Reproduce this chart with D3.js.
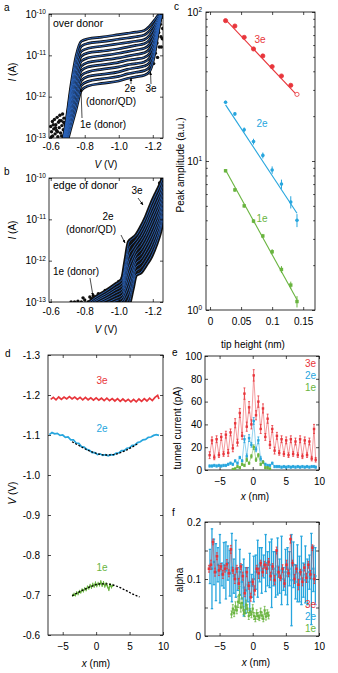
<!DOCTYPE html>
<html>
<head>
<meta charset="utf-8">
<script src="https://cdn.jsdelivr.net/npm/d3@7"></script>
<style>
body { margin: 0; background: #fff; }
svg text { font-family: "Liberation Sans", Arial, sans-serif; }
</style>
</head>
<body>
<svg id="fig" width="338" height="673"></svg>
<script>
// ---- panel a: I(V) over donor, log10(I) per curve on a shared bias grid
const ivV = [-0.66, -0.69, -0.72, -0.75, -0.78, -0.82, -0.90, -1.00, -1.05, -1.10, -1.15, -1.18, -1.21, -1.23, -1.25];
const ivDonor = [
  [-13.30,-12.60,-11.70,-11.00,-10.66,-10.60,-10.56,-10.50,-10.47,-10.44,-10.40,-10.30,-10.15,-10.04,-9.95],
  [-13.33,-12.66,-11.81,-11.13,-10.78,-10.71,-10.67,-10.61,-10.58,-10.55,-10.51,-10.41,-10.24,-10.09,-9.96],
  [-13.36,-12.72,-11.91,-11.26,-10.90,-10.83,-10.78,-10.72,-10.69,-10.66,-10.62,-10.52,-10.32,-10.13,-9.97],
  [-13.39,-12.78,-12.02,-11.39,-11.02,-10.94,-10.90,-10.84,-10.80,-10.76,-10.72,-10.63,-10.41,-10.18,-9.98],
  [-13.42,-12.84,-12.12,-11.52,-11.14,-11.06,-11.01,-10.95,-10.91,-10.87,-10.83,-10.74,-10.49,-10.22,-9.99],
  [-13.45,-12.90,-12.23,-11.65,-11.26,-11.17,-11.12,-11.06,-11.02,-10.98,-10.94,-10.85,-10.58,-10.27,-10.00],
  [-13.48,-12.96,-12.33,-11.78,-11.37,-11.28,-11.23,-11.17,-11.12,-11.09,-11.05,-10.96,-10.66,-10.32,-10.01],
  [-13.51,-13.02,-12.44,-11.91,-11.49,-11.40,-11.34,-11.28,-11.23,-11.20,-11.16,-11.07,-10.75,-10.36,-10.02],
  [-13.54,-13.08,-12.54,-12.04,-11.61,-11.51,-11.46,-11.40,-11.34,-11.30,-11.26,-11.18,-10.83,-10.41,-10.03],
  [-13.57,-13.14,-12.65,-12.17,-11.73,-11.63,-11.57,-11.51,-11.45,-11.41,-11.37,-11.29,-10.92,-10.45,-10.04],
  [-13.60,-13.20,-12.75,-12.30,-11.85,-11.74,-11.68,-11.62,-11.56,-11.52,-11.48,-11.40,-11.00,-10.50,-10.05]
];
const ivDonorNoise = [
  [-0.600,-12.72],[-0.605,-12.85],[-0.610,-12.60],[-0.612,-12.95],[-0.618,-12.78],[-0.622,-12.55],
  [-0.626,-12.90],[-0.630,-12.68],[-0.634,-12.82],[-0.638,-12.50],[-0.642,-12.97],[-0.646,-12.62],
  [-0.650,-12.75],[-0.654,-12.45],[-0.658,-12.88],[-0.662,-12.58],[-0.666,-12.70],[-0.670,-12.42],
  [-0.674,-12.80],[-0.678,-12.52],[-0.682,-12.65],[-0.603,-12.98],[-0.615,-12.68],[-0.628,-12.75],
  [-0.640,-12.85],[-0.652,-12.58],[-0.664,-12.95],[-0.676,-12.62],
  [-1.205,-11.20],[-1.215,-10.95],[-1.225,-10.70],[-1.235,-10.45],[-1.245,-10.25],[-1.255,-10.08],
  [-1.258,-10.35],[-1.248,-10.55],[-1.238,-10.80],[-1.228,-11.05],[-1.250,-10.80],[-1.256,-10.60]
];

// ---- panel b: I(V) at edge of donor
const ivVb = [-0.80, -0.86, -0.92, -0.98, -1.02, -1.04, -1.06, -1.08, -1.10, -1.13, -1.16, -1.19, -1.22, -1.24, -1.26];
const ivEdge = [
  [-13.10,-12.90,-12.75,-12.58,-12.45,-12.00,-11.55,-11.47,-11.40,-11.20,-10.95,-10.64,-10.37,-10.20,-10.00],
  [-13.13,-12.95,-12.81,-12.65,-12.53,-12.12,-11.70,-11.59,-11.50,-11.31,-11.07,-10.77,-10.49,-10.32,-10.10],
  [-13.16,-12.99,-12.86,-12.71,-12.60,-12.23,-11.85,-11.72,-11.59,-11.42,-11.18,-10.89,-10.62,-10.43,-10.20],
  [-13.19,-13.04,-12.92,-12.78,-12.68,-12.35,-12.00,-11.84,-11.69,-11.52,-11.30,-11.02,-10.74,-10.55,-10.30],
  [-13.22,-13.08,-12.97,-12.85,-12.75,-12.46,-12.15,-11.96,-11.78,-11.63,-11.41,-11.14,-10.86,-10.66,-10.40],
  [-13.25,-13.13,-13.03,-12.92,-12.83,-12.58,-12.30,-12.09,-11.88,-11.74,-11.53,-11.27,-10.99,-10.78,-10.50],
  [-13.28,-13.17,-13.08,-12.98,-12.90,-12.69,-12.45,-12.21,-11.97,-11.85,-11.64,-11.40,-11.11,-10.89,-10.60],
  [-13.31,-13.22,-13.14,-13.05,-12.98,-12.81,-12.60,-12.33,-12.07,-11.96,-11.76,-11.52,-11.23,-11.01,-10.70],
  [-13.34,-13.26,-13.19,-13.12,-13.05,-12.92,-12.75,-12.45,-12.16,-12.06,-11.87,-11.65,-11.35,-11.12,-10.80],
  [-13.37,-13.31,-13.25,-13.18,-13.13,-13.04,-12.90,-12.58,-12.26,-12.17,-11.99,-11.77,-11.48,-11.24,-10.90],
  [-13.40,-13.35,-13.30,-13.25,-13.20,-13.15,-13.05,-12.70,-12.35,-12.28,-12.10,-11.90,-11.60,-11.35,-11.00]
];
const ivEdgeNoise = [
  [-0.72,-13.0],[-0.74,-13.0],[-0.76,-12.98],[-0.78,-13.0],[-0.79,-12.9],[-0.80,-12.95],[-0.82,-13.0],
  [-0.83,-12.88],[-0.84,-12.92],[-0.85,-12.85],[-0.86,-12.98],[-0.88,-12.8],[-0.90,-12.9],[-0.92,-12.72],
  [-0.94,-12.85],[-0.96,-12.65],[-0.98,-12.75],[-1.00,-12.5],[-1.02,-12.42],
  [-1.24,-10.12],[-1.25,-10.30],[-1.26,-10.20],[-1.255,-10.05],[-1.245,-10.45],[-1.235,-10.35]
];

// ---- panel c: peak amplitude vs tip height
const tipH = [0.025, 0.04, 0.055, 0.07, 0.085, 0.10, 0.115, 0.13, 0.14];
const amp3e = [87.5, 80.5, 67.6, 56.5, 50.7, 43.0, 37.2, 32.2, 28.0];
const amp2e = [24.8, 20.7, 16.2, 13.5, 10.9, 8.7, 7.0, 5.3, 4.0];
const amp1e = [8.6, 6.4, 5.0, 3.95, 3.14, 2.46, 1.87, 1.47, 1.14];
const err2e = [0.6, 0.6, 0.6, 0.6, 0.5, 0.5, 0.5, 0.5, 0.4];
const err1e = [0.2, 0.2, 0.15, 0.12, 0.1, 0.1, 0.1, 0.08, 0.1];
const fit3e = [[0.025, 89], [0.14, 27.7]];
const fit2e = [[0.025, 23.8], [0.14, 4.46]];
const fit1e = [[0.025, 8.7], [0.14, 1.17]];

// ---- panel d: peak position vs lateral position
const dX3 = [-6.8,-6.4,-6.0,-5.6,-5.2,-4.8,-4.4,-4.0,-3.6,-3.2,-2.8,-2.4,-2.0,-1.6,-1.2,-0.8,-0.4,0.0,0.4,0.8,1.2,1.6,2.0,2.4,2.8,3.2,3.6,4.0,4.4,4.8,5.2,5.6,6.0,6.4,6.8,7.2,7.6,8.0,8.4,8.8,9.2,9.4];
const dV3 = [-1.189,-1.194,-1.188,-1.195,-1.189,-1.195,-1.190,-1.196,-1.190,-1.195,-1.189,-1.194,-1.188,-1.194,-1.188,-1.193,-1.187,-1.193,-1.187,-1.192,-1.186,-1.192,-1.186,-1.191,-1.185,-1.191,-1.184,-1.190,-1.184,-1.189,-1.183,-1.189,-1.183,-1.190,-1.184,-1.191,-1.185,-1.192,-1.186,-1.194,-1.199,-1.190];
const dX2 = [-7.0,-6.6,-6.2,-5.8,-5.4,-5.0,-4.6,-4.2,-3.8,-3.4,-3.0,-2.6,-2.2,-1.8,-1.4,-1.0,-0.6,-0.2,0.2,0.6,1.0,1.4,1.8,2.2,2.6,3.0,3.4,3.8,4.2,4.6,5.0,5.4,5.8,6.2,6.6,7.0,7.4,7.8,8.2,8.6,9.0,9.4];
const dV2 = [-1.101,-1.106,-1.103,-1.104,-1.099,-1.100,-1.094,-1.095,-1.088,-1.088,-1.080,-1.079,-1.071,-1.070,-1.064,-1.062,-1.056,-1.056,-1.051,-1.053,-1.049,-1.051,-1.048,-1.051,-1.050,-1.055,-1.055,-1.061,-1.061,-1.067,-1.068,-1.074,-1.075,-1.081,-1.083,-1.088,-1.089,-1.094,-1.095,-1.099,-1.101,-1.099];
const dFitX2 = [-3.6, -2.5, -1.5, -0.5, 0.5, 1.5, 2.5, 3.5, 4.5, 5.5, 6.2];
const dFitV2 = [-1.083, -1.073, -1.064, -1.057, -1.052, -1.050, -1.051, -1.055, -1.062, -1.071, -1.078];
const dX1 = [-3.5,-3.3,-3.1,-2.9,-2.7,-2.5,-2.3,-2.1,-1.9,-1.7,-1.5,-1.3,-1.1,-0.9,-0.7,-0.5,-0.3,-0.1,0.1,0.3,0.5,0.7,0.9,1.1,1.3,1.5,1.7,1.9,2.1,2.3,2.5];
const dV1 = [-0.699,-0.702,-0.700,-0.706,-0.703,-0.709,-0.707,-0.713,-0.710,-0.716,-0.713,-0.720,-0.717,-0.724,-0.719,-0.727,-0.722,-0.730,-0.723,-0.729,-0.725,-0.733,-0.724,-0.731,-0.722,-0.728,-0.721,-0.714,-0.726,-0.720,-0.724];
const dFitX1 = [-3.6, -2.5, -1.5, -0.5, 0.5, 1.5, 2.5, 3.5, 4.5, 5.5, 6.5];
const dFitV1 = [-0.698, -0.708, -0.716, -0.723, -0.7275, -0.728, -0.725, -0.719, -0.711, -0.702, -0.695];

// ---- panel e: tunnel current vs x
const eX = [-6.5,-6.15,-5.8,-5.45,-5.1,-4.75,-4.4,-4.05,-3.7,-3.35,-3.0,-2.65,-2.3,-1.95,-1.6,-1.25,-0.9,-0.55,-0.2,0.15,0.5,0.85,1.2,1.55,1.9,2.25,2.6,2.95,3.3,3.65,4.0,4.35,4.7,5.05,5.4,5.75,6.1,6.45,6.8,7.15,7.5,7.85,8.2,8.55,8.9,9.25,9.5];
const eI3 = [13,26,11,27,13,29,14,31,15,33,19,41,24,50,30,67,38,55,40,83,48,60,36,54,29,45,22,36,17,30,15,27,14,26,13,27,14,25,13,27,12,26,13,25,10,36,9];
const eErr3 = [3,3,2,3,2,3,2,3,3,3,3,4,3,4,3,5,4,5,4,5,4,5,4,4,3,4,3,3,3,3,2,3,2,3,2,3,2,3,2,3,2,3,2,3,2,4,2];
const eI2 = [3.5,3.5,4,3.5,4,3.5,4,4,5,6,5,8,6,11,8,27,12,28,22,43,18,26,10,7,5,4,4,6,3,3,3,2.5,3,2.5,3,2.5,3,2.5,3,2.5,3,2.5,3,2.5,3,3,2.5];
const eErr2 = [1,1,1,1,1,1,1,1,1,1,1,1,1,1,1,3,2,3,2,3,2,3,2,1,1,1,1,1,1,1,1,1,1,1,1,1,1,1,1,1,1,1,1,1,1,1,1];
const eX1 = [-3.0,-2.65,-2.3,-1.95,-1.6,-1.25,-0.9,-0.55,-0.2,0.15,0.5,0.85,1.2,1.55,1.9,2.25,2.6];
const eI1 = [0.5,1,3,2,5,4,9,6,12,20,9,13,5,7,2,2,1];
const eErr1 = [1,1,1,1,1,1,1.5,1,1.5,2,1.5,1.5,1,1,1,1,1];

// ---- panel f: alpha vs x
const fX3 = [-6.6,-6.3,-6.0,-5.7,-5.4,-5.1,-4.8,-4.5,-4.2,-3.9,-3.6,-3.3,-3.0,-2.7,-2.4,-2.1,-1.8,-1.5,-1.2,-0.9,-0.6,-0.3,0,0.3,0.6,0.9,1.2,1.5,1.8,2.1,2.4,2.7,3.0,3.3,3.6,3.9,4.2,4.5,4.8,5.1,5.4,5.7,6.0,6.3,6.6,6.9,7.2,7.5,7.8,8.1,8.4,8.7,9.0,9.3];
const fA3 = [0.118,0.125,0.165,0.112,0.140,0.115,0.122,0.108,0.118,0.126,0.110,0.152,0.115,0.100,0.118,0.092,0.122,0.105,0.075,0.112,0.088,0.068,0.095,0.080,0.118,0.110,0.128,0.112,0.125,0.118,0.130,0.105,0.122,0.098,0.150,0.112,0.102,0.118,0.092,0.125,0.110,0.170,0.128,0.100,0.118,0.090,0.112,0.095,0.120,0.102,0.125,0.108,0.155,0.100];
const fErr3 = [0.006,0.008,0.005,0.007,0.006,0.009,0.005,0.007,0.006,0.008,0.006,0.007,0.005,0.008,0.006,0.009,0.005,0.007,0.006,0.008,0.006,0.007,0.005,0.008,0.006,0.009,0.005,0.007,0.006,0.008,0.006,0.007,0.005,0.008,0.006,0.009,0.005,0.007,0.006,0.008,0.006,0.007,0.005,0.008,0.006,0.009,0.005,0.007,0.006,0.008,0.006,0.007,0.005,0.008];
const fX2 = [-6.45,-6.15,-5.85,-5.55,-5.25,-4.95,-4.65,-4.35,-4.05,-3.75,-3.45,-3.15,-2.85,-2.55,-2.25,-1.95,-1.65,-1.35,-1.05,-0.75,-0.45,-0.15,0.15,0.45,0.75,1.05,1.35,1.65,1.95,2.25,2.55,2.85,3.15,3.45,3.75,4.05,4.35,4.65,4.95,5.25,5.55,5.85,6.15,6.45,6.75,7.05,7.35,7.65,7.95,8.25,8.55,8.85,9.15,9.45];
const fA2 = [0.122,0.118,0.130,0.112,0.125,0.118,0.108,0.124,0.115,0.128,0.110,0.120,0.105,0.118,0.100,0.112,0.095,0.085,0.080,0.090,0.095,0.088,0.100,0.112,0.118,0.125,0.115,0.122,0.128,0.118,0.125,0.110,0.118,0.108,0.122,0.105,0.115,0.100,0.112,0.105,0.118,0.098,0.125,0.095,0.110,0.100,0.115,0.098,0.108,0.095,0.112,0.100,0.118,0.105];
const fErr2 = [0.03,0.07,0.04,0.05,0.03,0.06,0.02,0.04,0.05,0.03,0.04,0.06,0.03,0.05,0.02,0.04,0.03,0.05,0.04,0.03,0.05,0.02,0.04,0.03,0.05,0.03,0.04,0.02,0.05,0.03,0.04,0.06,0.03,0.04,0.05,0.03,0.06,0.02,0.04,0.05,0.03,0.08,0.04,0.03,0.05,0.04,0.06,0.03,0.05,0.04,0.03,0.08,0.04,0.05];
const fX1 = [-3.2,-3.0,-2.8,-2.6,-2.4,-2.2,-2.0,-1.8,-1.6,-1.4,-1.2,-1.0,-0.8,-0.6,-0.4,-0.2,0.0,0.2,0.4,0.6,0.8,1.0,1.2,1.4,1.6,1.8,2.0,2.2,2.4];
const fA1 = [0.038,0.048,0.040,0.052,0.045,0.060,0.072,0.050,0.058,0.045,0.040,0.055,0.048,0.035,0.042,0.038,0.048,0.035,0.030,0.040,0.035,0.032,0.042,0.036,0.030,0.045,0.034,0.040,0.036];
const fErr1 = [0.006,0.007,0.006,0.008,0.006,0.01,0.015,0.008,0.009,0.007,0.006,0.008,0.007,0.006,0.006,0.006,0.007,0.006,0.005,0.006,0.006,0.005,0.007,0.006,0.005,0.007,0.006,0.006,0.006];

const RED = "#e8353b", SKY = "#27a6de", GREEN = "#69b43f", FITBLUE = "#2a62b8", INK = "#111";

const svg = d3.select("#fig");
let clipCount = 0;

function clipGroup(box)
{
    const id = "clip" + (clipCount++);
    svg.append("clipPath").attr("id", id).append("rect")
        .attr("x", box.x0).attr("y", box.y0)
        .attr("width", box.x1 - box.x0).attr("height", box.y1 - box.y0);
    return svg.append("g").attr("clip-path", "url(#" + id + ")");
}

// MATLAB-like boxed axes with inward ticks on all four sides
function drawAxes(box, x, y, o)
{
    const g = svg.append("g");
    const t = o.tick || 3;
    g.append("g").attr("transform", "translate(0," + box.y1 + ")")
        .call(d3.axisBottom(x).tickValues(o.xTicks).tickFormat(o.xFmt || null)
            .tickSizeInner(-t).tickSizeOuter(0).tickPadding(o.xPad));
    g.append("g").attr("transform", "translate(0," + box.y0 + ")")
        .call(d3.axisTop(x).tickValues(o.xTicks).tickFormat("").tickSizeInner(-t).tickSizeOuter(0));
    const left = g.append("g").attr("transform", "translate(" + box.x0 + ",0)")
        .call(d3.axisLeft(y).tickValues(o.yTicks).tickFormat(o.yFmt || null)
            .tickSizeInner(-t).tickSizeOuter(0).tickPadding(o.yPad));
    g.append("g").attr("transform", "translate(" + box.x1 + ",0)")
        .call(d3.axisRight(y).tickValues(o.yTicks).tickFormat("").tickSizeInner(-t).tickSizeOuter(0));
    if (o.yMinor) {
        g.append("g").attr("transform", "translate(" + box.x0 + ",0)")
            .call(d3.axisLeft(y).tickValues(o.yMinor).tickFormat("").tickSizeInner(-1.8).tickSizeOuter(0));
        g.append("g").attr("transform", "translate(" + box.x1 + ",0)")
            .call(d3.axisRight(y).tickValues(o.yMinor).tickFormat("").tickSizeInner(-1.8).tickSizeOuter(0));
    }
    g.selectAll(".domain").remove();
    g.selectAll(".tick line").attr("stroke", "#000").attr("stroke-width", 0.7);
    g.selectAll(".tick text").attr("font-size", 10).attr("fill", "#000")
        .attr("font-family", "'Liberation Sans', Arial, sans-serif");
    if (o.logLabels) {
        left.selectAll(".tick text").each(function(d) {
            const e = Math.round(Math.log10(d));
            const t = d3.select(this).text("");
            t.append("tspan").text("10");
            t.append("tspan").attr("font-size", 6.5).attr("dy", "-0.55em").text(e);
        });
    }
    g.append("rect").attr("x", box.x0).attr("y", box.y0)
        .attr("width", box.x1 - box.x0).attr("height", box.y1 - box.y0)
        .attr("fill", "none").attr("stroke", "#000").attr("stroke-width", 0.8);
    return g;
}

function label(x, y, str, opt)
{
    opt = opt || {};
    return svg.append("text").attr("x", x).attr("y", y)
        .attr("font-size", opt.size || 10)
        .attr("fill", opt.color || "#000")
        .attr("text-anchor", opt.anchor || "start")
        .text(str);
}

// axis title with an italic symbol, optionally rotated
function axisTitle(x, y, sym, rest, rotate)
{
    const t = svg.append("text").attr("font-size", 10).attr("text-anchor", "middle");
    if (rotate)
        t.attr("transform", "translate(" + x + "," + y + ") rotate(-90)");
    else
        t.attr("x", x).attr("y", y);
    if (sym) t.append("tspan").attr("font-style", "italic").text(sym);
    t.append("tspan").text(rest);
    return t;
}

svg.append("defs").append("marker").attr("id", "arr")
    .attr("viewBox", "0 0 10 10").attr("refX", 9).attr("refY", 5)
    .attr("markerWidth", 5).attr("markerHeight", 5).attr("orient", "auto")
    .append("path").attr("d", "M0,1 L10,5 L0,9 Z").attr("fill", "#000");

function arrow(x1, y1, x2, y2)
{
    svg.append("line").attr("x1", x1).attr("y1", y1).attr("x2", x2).attr("y2", y2)
        .attr("stroke", "#000").attr("stroke-width", 0.7).attr("marker-end", "url(#arr)");
}

function errorBars(g, xs, ys, es, x, y, color, width, cap)
{
    xs.forEach((xv, i) => {
        const px = x(xv), y1 = y(ys[i] - es[i]), y2 = y(ys[i] + es[i]);
        g.append("line").attr("x1", px).attr("x2", px).attr("y1", y1).attr("y2", y2)
            .attr("stroke", color).attr("stroke-width", width);
        [y1, y2].forEach(py => g.append("line").attr("x1", px - cap).attr("x2", px + cap)
            .attr("y1", py).attr("y2", py).attr("stroke", color).attr("stroke-width", width));
    });
}

function squares(g, xs, ys, x, y, color, s)
{
    g.selectAll(null).data(xs).enter().append("rect")
        .attr("x", (d) => x(d) - s / 2).attr("y", (d, i) => y(ys[i]) - s / 2)
        .attr("width", s).attr("height", s).attr("fill", color);
}

// ================= panel a =================
const aBox = { x0: 49, x1: 163, y0: 14, y1: 138 };
const xa = d3.scaleLinear().domain([-0.59, -1.26]).range([aBox.x0, aBox.x1]);
const ya = d3.scaleLog().domain([1e-13, 1e-10]).range([aBox.y1, aBox.y0]);

function drawIV(box, x, y, vs, rows, noise, blackW, blueW)
{
    const plot = clipGroup(box);
    const line = d3.line().x(d => x(d[0])).y(d => y(Math.pow(10, d[1]))).curve(d3.curveMonotoneX);
    plot.selectAll(null).data(noise).enter().append("circle")
        .attr("cx", d => x(d[0])).attr("cy", d => y(Math.pow(10, d[1])))
        .attr("r", 1.7).attr("fill", INK);
    rows.forEach(row => {
        plot.append("path").datum(vs.map((v, i) => [v, row[i]]))
            .attr("d", line).attr("fill", "none").attr("stroke", INK).attr("stroke-width", blackW);
    });
    rows.forEach(row => {
        plot.append("path").datum(vs.map((v, i) => [v, row[i]]))
            .attr("d", line).attr("fill", "none").attr("stroke", FITBLUE).attr("stroke-width", blueW);
    });
}

drawIV(aBox, xa, ya, ivV, ivDonor, ivDonorNoise, 2.7, 1.0);
drawAxes(aBox, xa, ya, {
    xTicks: [-0.6, -0.8, -1.0, -1.2], xFmt: d => d.toFixed(1), xPad: 5,
    yTicks: [1e-13, 1e-12, 1e-11, 1e-10], yPad: 3, logLabels: true
});
label(4, 11, "a");
label(53, 27, "over donor", { size: 10.5 });
label(130, 92, "2e", { anchor: "middle" });
label(151, 92, "3e", { anchor: "middle" });
label(86, 105, "(donor/QD)");
label(80, 128, "1e (donor)");
arrow(131, 84, 131, 78);
arrow(151, 84, 150.5, 72);
arrow(82, 118, 81, 89);
axisTitle(15.5, 72, "I", " (A)", true);
axisTitle(106, 168, "V", " (V)", false);

// ================= panel b =================
const bBox = { x0: 49, x1: 163, y0: 178, y1: 302 };
const xb = d3.scaleLinear().domain([-0.59, -1.26]).range([bBox.x0, bBox.x1]);
const yb = d3.scaleLog().domain([1e-13, 1e-10]).range([bBox.y1, bBox.y0]);

drawIV(bBox, xb, yb, ivVb, ivEdge, ivEdgeNoise, 4.2, 0.9);
drawAxes(bBox, xb, yb, {
    xTicks: [-0.6, -0.8, -1.0, -1.2], xFmt: d => d.toFixed(1), xPad: 6,
    yTicks: [1e-13, 1e-12, 1e-11, 1e-10], yPad: 3, logLabels: true
});
label(4, 175, "b");
label(53, 189, "edge of donor", { size: 10.5 });
label(137, 194, "3e", { anchor: "middle" });
arrow(138, 198, 143, 205);
label(108, 220, "2e", { anchor: "middle" });
label(91, 233, "(donor/QD)", { anchor: "middle" });
arrow(121, 235, 125, 243);
label(53, 275, "1e (donor)");
arrow(90, 278, 93, 296);
axisTitle(15.5, 230, "I", " (A)", true);
axisTitle(106, 333, "V", " (V)", false);

// ================= panel c =================
const cBox = { x0: 206, x1: 315, y0: 12, y1: 310 };
const xc = d3.scaleLinear().domain([-0.0065, 0.169]).range([cBox.x0, cBox.x1]);
const yc = d3.scaleLog().domain([1, 100]).range([cBox.y1, cBox.y0]);
const cMinor = [2, 3, 4, 5, 6, 7, 8, 9, 20, 30, 40, 50, 60, 70, 80, 90];

drawAxes(cBox, xc, yc, {
    xTicks: [0, 0.05, 0.1, 0.15], xFmt: d => (d === 0 ? "0" : String(d)), xPad: 8,
    yTicks: [1, 10, 100], yPad: 4, yMinor: cMinor, logLabels: true
});
const cPlot = svg.append("g");
const lineC = d3.line().x(d => xc(d[0])).y(d => yc(d[1]));
[[fit3e, RED], [fit2e, SKY], [fit1e, GREEN]].forEach(([f, col]) => {
    cPlot.append("path").datum(f).attr("d", lineC).attr("fill", "none")
        .attr("stroke", col).attr("stroke-width", 1.1);
});
cPlot.selectAll(null).data(tipH).enter().append("circle")
    .attr("cx", d => xc(d)).attr("cy", (d, i) => yc(amp3e[i])).attr("r", 2.1)
    .attr("fill", (d, i) => i === tipH.length - 1 ? "#fff" : RED)
    .attr("stroke", RED).attr("stroke-width", 0.8);
errorBars(cPlot, tipH, amp2e, err2e, xc, yc, SKY, 1, 0);
cPlot.selectAll(null).data(tipH).enter().append("circle")
    .attr("cx", d => xc(d)).attr("cy", (d, i) => yc(amp2e[i])).attr("r", 1.8).attr("fill", SKY);
errorBars(cPlot, tipH, amp1e, err1e, xc, yc, GREEN, 1, 0);
squares(cPlot, tipH, amp1e, xc, yc, GREEN, 3.4);
label(174, 10, "c");
label(260, 43, "3e", { color: RED, anchor: "middle" });
label(262, 127, "2e", { color: SKY, anchor: "middle" });
label(262, 222, "1e", { color: GREEN, anchor: "middle" });
axisTitle(184, 165, null, "Peak amplitude (a.u.)", true);
axisTitle(253, 348, null, "tip height (nm)", false);

// ================= panel d =================
const dBox = { x0: 48, x1: 163, y0: 355, y1: 635 };
const xd = d3.scaleLinear().domain([-7.2, 10]).range([dBox.x0, dBox.x1]);
const yd = d3.scaleLinear().domain([-1.3, -0.6]).range([dBox.y0, dBox.y1]);

drawAxes(dBox, xd, yd, {
    xTicks: [-5, 0, 5, 10], xPad: 8,
    yTicks: [-1.3, -1.2, -1.1, -1.0, -0.9, -0.8, -0.7, -0.6], yFmt: d => d.toFixed(1), yPad: 8
});
const dPlot = clipGroup(dBox);
const lineD = d3.line().x(d => xd(d[0])).y(d => yd(d[1]));
const smoothD = d3.line().x(d => xd(d[0])).y(d => yd(d[1])).curve(d3.curveMonotoneX);
dPlot.append("path").datum(dX3.map((v, i) => [v, dV3[i]])).attr("d", lineD)
    .attr("fill", "none").attr("stroke", RED).attr("stroke-width", 1.7);
dPlot.append("path").datum(dX2.map((v, i) => [v, dV2[i]])).attr("d", lineD)
    .attr("fill", "none").attr("stroke", SKY).attr("stroke-width", 1.7);
dPlot.append("path").datum(dFitX2.map((v, i) => [v, dFitV2[i]])).attr("d", smoothD)
    .attr("fill", "none").attr("stroke", "#000").attr("stroke-width", 1.3).attr("stroke-dasharray", "2,1.6");
errorBars(dPlot, dX1, dV1, dX1.map(() => 0.004), xd, yd, GREEN, 0.9, 0);
dPlot.append("path").datum(dX1.map((v, i) => [v, dV1[i]])).attr("d", lineD)
    .attr("fill", "none").attr("stroke", GREEN).attr("stroke-width", 1.4);
dPlot.append("path").datum(dFitX1.map((v, i) => [v, dFitV1[i]])).attr("d", smoothD)
    .attr("fill", "none").attr("stroke", "#000").attr("stroke-width", 1.3).attr("stroke-dasharray", "2,1.6");
label(5, 357, "d");
label(102, 384, "3e", { color: RED, anchor: "middle" });
label(102, 432, "2e", { color: SKY, anchor: "middle" });
label(102, 571, "1e", { color: GREEN, anchor: "middle" });
axisTitle(16, 493, "V", " (V)", true);
axisTitle(96, 667, "x", " (nm)", false);

// ================= panel e =================
const eBox = { x0: 205, x1: 319, y0: 356, y1: 470 };
const xe = d3.scaleLinear().domain([-7.2, 10]).range([eBox.x0, eBox.x1]);
const ye = d3.scaleLinear().domain([0, 100]).range([eBox.y1, eBox.y0]);

drawAxes(eBox, xe, ye, {
    xTicks: [-5, 0, 5, 10], xPad: 8,
    yTicks: [0, 20, 40, 60, 80, 100], yPad: 3
});
const ePlot = clipGroup(eBox);
const lineE = d3.line().x(d => xe(d[0])).y(d => ye(d[1]));
function traceWithErr(g, xs, ys, es, x, y, line, col)
{
    g.append("path").datum(xs.map((v, i) => [v, ys[i]])).attr("d", line)
        .attr("fill", "none").attr("stroke", col).attr("stroke-width", 0.9).attr("stroke-opacity", 0.55);
    errorBars(g, xs, ys, es, x, y, col, 0.8, 1);
    squares(g, xs, ys, x, y, col, 2.4);
}
traceWithErr(ePlot, eX, eI3, eErr3, xe, ye, lineE, RED);
traceWithErr(ePlot, eX, eI2, eErr2, xe, ye, lineE, SKY);
traceWithErr(ePlot, eX1, eI1, eErr1, xe, ye, lineE, GREEN);
label(172, 356, "e");
label(316, 367, "3e", { color: RED, anchor: "end" });
label(316, 379, "2e", { color: SKY, anchor: "end" });
label(316, 391, "1e", { color: GREEN, anchor: "end" });
axisTitle(181, 428, null, "tunnel current  (pA)", true);
axisTitle(255, 500, "x", " (nm)", false);

// ================= panel f =================
const fBox = { x0: 205, x1: 319, y0: 522, y1: 636 };
const xf = d3.scaleLinear().domain([-7.2, 10]).range([fBox.x0, fBox.x1]);
const yf = d3.scaleLinear().domain([0, 0.2]).range([fBox.y1, fBox.y0]);

drawAxes(fBox, xf, yf, {
    xTicks: [-5, 0, 5, 10], xPad: 7,
    yTicks: [0, 0.05, 0.1, 0.15, 0.2], yFmt: d => (d === 0 ? "0" : (Math.abs(d * 10 - Math.round(d * 10)) < 1e-9 ? String(d) : "")), yPad: 4
});
const fPlot = clipGroup(fBox);
const lineF = d3.line().x(d => xf(d[0])).y(d => yf(d[1]));
fPlot.append("path").datum(fX2.map((v, i) => [v, fA2[i]])).attr("d", lineF)
    .attr("fill", "none").attr("stroke", SKY).attr("stroke-width", 0.8).attr("stroke-opacity", 0.5);
errorBars(fPlot, fX2, fA2, fErr2, xf, yf, SKY, 1.3, 1.2);
squares(fPlot, fX2, fA2, xf, yf, SKY, 2.2);
fPlot.append("path").datum(fX3.map((v, i) => [v, fA3[i]])).attr("d", lineF)
    .attr("fill", "none").attr("stroke", RED).attr("stroke-width", 0.8).attr("stroke-opacity", 0.5);
errorBars(fPlot, fX3, fA3, fErr3, xf, yf, RED, 0.8, 1);
squares(fPlot, fX3, fA3, xf, yf, RED, 2.6);
fPlot.append("path").datum(fX1.map((v, i) => [v, fA1[i]])).attr("d", lineF)
    .attr("fill", "none").attr("stroke", GREEN).attr("stroke-width", 0.9).attr("stroke-opacity", 0.6);
errorBars(fPlot, fX1, fA1, fErr1, xf, yf, GREEN, 0.8, 1);
squares(fPlot, fX1, fA1, xf, yf, GREEN, 2.2);
label(172, 516, "f");
label(316, 608, "3e", { color: RED, anchor: "end" });
label(316, 620, "2e", { color: SKY, anchor: "end" });
label(316, 632, "1e", { color: GREEN, anchor: "end" });
axisTitle(183, 580, null, "alpha", true);
axisTitle(256, 666, "x", " (nm)", false);
</script>
</body>
</html>
